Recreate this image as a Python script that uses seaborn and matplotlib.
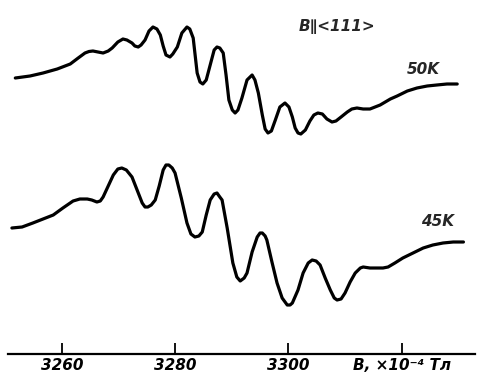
import numpy as np
import pandas as pd
import matplotlib
matplotlib.use("Agg")
import matplotlib.pyplot as plt
import seaborn as sns

# ── Data: EPR spectra, B || <111> (field in 10^-4 T, signal in arb. units) ──
field_50k = [3251.8, 3254.4, 3256.7, 3259.2, 3261.5, 3262.9, 3264.1, 3264.8, 3265.5, 3266.4,
             3267.3, 3268.2, 3268.9, 3269.9, 3270.8, 3271.5, 3272.4, 3272.9, 3273.5, 3274.0,
             3274.7, 3275.4, 3276.1, 3276.8, 3277.4, 3277.9, 3278.4, 3279.1, 3279.6, 3280.4,
             3281.2, 3282.1, 3282.6, 3283.2, 3283.9, 3284.4, 3284.9, 3285.5, 3286.2, 3286.9,
             3287.4, 3287.9, 3288.5, 3289.0, 3289.5, 3290.1, 3290.6, 3291.1, 3291.8, 3292.7,
             3293.6, 3294.1, 3294.7, 3295.4, 3295.9, 3296.4, 3297.0, 3297.7, 3298.5, 3299.4,
             3300.1, 3300.7, 3301.2, 3301.7, 3302.2, 3303.0, 3303.8, 3304.5, 3305.2, 3306.0,
             3306.8, 3307.7, 3308.4, 3309.3, 3310.4, 3311.2, 3312.1, 3313.2, 3314.4, 3316.2,
             3318.0, 3319.2, 3321.0, 3322.7, 3324.5, 3326.2, 3328.0, 3329.8]
signal_50k = [276, 278, 281, 285, 290, 296, 301, 302.5, 303, 302,
              301, 303, 306, 312, 315, 314, 311, 308, 307, 309,
              314, 323, 327, 325, 319, 308, 299, 297, 300, 307,
              321, 327, 325, 316, 281, 272, 270, 274, 289, 304,
              307, 306, 301, 279, 254, 244, 241, 244, 256, 274,
              279, 274, 261, 239, 225, 221, 223, 234, 247, 251,
              247, 237, 226, 221, 220, 224, 233, 239, 241, 240,
              235, 232, 233, 237, 242, 245, 246, 245, 245, 249,
              255, 258, 263, 266, 268, 269, 270, 270]

field_45k = [3251.2, 3253.0, 3254.9, 3256.7, 3258.5, 3260.2, 3262.0, 3263.2, 3264.5, 3265.3,
             3266.2, 3266.8, 3267.3, 3268.2, 3269.1, 3269.9, 3270.6, 3271.4, 3272.4, 3273.3,
             3274.2, 3274.7, 3275.2, 3275.8, 3276.5, 3277.2, 3277.9, 3278.4, 3278.9, 3279.5,
             3280.0, 3281.1, 3282.1, 3282.8, 3283.5, 3284.2, 3284.8, 3285.5, 3286.2, 3286.9,
             3287.4, 3287.9, 3288.3, 3289.2, 3290.2, 3290.9, 3291.5, 3292.2, 3292.7, 3293.6,
             3294.5, 3295.0, 3295.4, 3295.9, 3296.2, 3297.1, 3298.0, 3298.9, 3299.8, 3300.3,
             3300.7, 3301.7, 3302.6, 3303.5, 3304.2, 3304.9, 3305.6, 3306.5, 3307.4, 3308.1,
             3308.6, 3309.3, 3310.0, 3310.9, 3311.8, 3312.7, 3313.2, 3314.4, 3315.7, 3316.7,
             3317.6, 3318.8, 3320.2, 3322.0, 3323.8, 3325.5, 3327.3, 3329.1, 3330.9]
signal_45k = [126, 127, 131, 135, 139, 146, 153, 155, 155, 154,
              152, 153, 157, 168, 179, 185, 186, 184, 177, 164,
              151, 147, 147, 149, 154, 168, 184, 189, 189, 186,
              181, 156, 131, 120, 117, 118, 122, 139, 154, 160,
              161, 157, 154, 126, 91, 77, 73, 76, 81, 102,
              117, 121, 121, 118, 114, 92, 71, 56, 49, 49,
              51, 64, 81, 91, 94, 93, 89, 76, 64, 56,
              54, 55, 61, 72, 81, 86, 87, 86, 86, 86,
              87, 91, 96, 101, 106, 109, 111, 112, 112]

tick_values = [3260, 3280, 3300, 3320]
tick_labels = ["3260", "3280", "3300", "B, ×10⁻⁴ Тл"]

curve_labels = ["50K", "45K"]
label_pos = [(3323.8, 285), (3326.4, 133)]
orient_label = "B∥<111>"
orient_pos = (3308.6, 327)

# ── Plot ──
sns.set_style("white")
plt.rcParams["font.family"] = ["DejaVu Sans"]

fig = plt.figure(figsize=(4.81, 3.85), dpi=100)
ax = fig.add_axes([0, 0, 1, 1])

df50 = pd.DataFrame({"B": field_50k, "S": signal_50k})
df45 = pd.DataFrame({"B": field_45k, "S": signal_45k})
for d in (df50, df45):
    sns.lineplot(data=d, x="B", y="S", ax=ax, color="black", linewidth=2.3,
                 sort=False, estimator=None)
for line in ax.lines:
    line.set_solid_capstyle("round")
    line.set_solid_joinstyle("round")

ax.set_xlim(3249.1, 3334.0)
ax.set_ylim(-31, 354)

for sp in ["top", "right", "left"]:
    ax.spines[sp].set_visible(False)
ax.spines["bottom"].set_position(("data", 0))
ax.spines["bottom"].set_bounds(3250.5, 3333.0)
ax.spines["bottom"].set_linewidth(1.6)
ax.spines["bottom"].set_color("black")

ax.set_yticks([])
ax.set_xticks(tick_values)
ax.set_xticklabels(tick_labels, fontstyle="italic", fontweight="bold", fontsize=11)
ax.tick_params(axis="x", direction="in", length=8, width=1.3, pad=3,
               colors="black", bottom=True)
ax.set_xlabel("")
ax.set_ylabel("")

for txt, (bx, sy) in zip(curve_labels, label_pos):
    ax.text(bx, sy, txt, fontstyle="italic", fontweight="bold", fontsize=11,
            ha="center", va="center")
ax.text(orient_pos[0], orient_pos[1], orient_label, fontstyle="italic",
        fontweight="bold", fontsize=11, ha="center", va="center")

fig.savefig("out.png", dpi=100, facecolor="white")
